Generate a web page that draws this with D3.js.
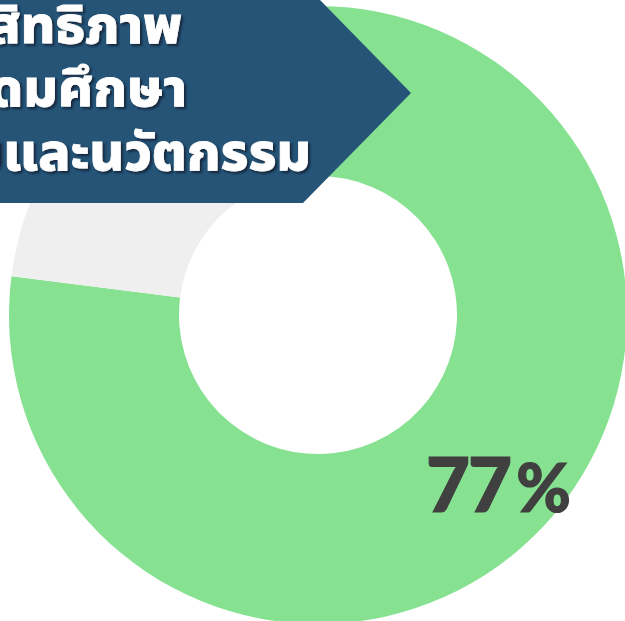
<!DOCTYPE html>
<html><head><meta charset="utf-8">
<script src="https://cdn.jsdelivr.net/npm/d3@7"></script>
<style>html,body{margin:0;padding:0;background:#fff;overflow:hidden}</style>
</head><body>
<svg id="c" width="625" height="621"></svg>
<script>
const categories = ["achieved", "remaining"];
const values = [77, 23];
const colors = ["#86e291", "#efefef"];
const titleLines = ["ประสิทธิภาพ", "การอุดมศึกษา", "วิทยาศาสตร์ วิจัยและนวัตกรรม"];
const labelValue = "77";
const labelUnit = "%";

const svg = d3.select("#c");
const cx = 318, cy = 315, R = 309, r = 139;

const defs = svg.append("defs");
const f = defs.append("filter").attr("id","sh").attr("x","-10%").attr("y","-20%").attr("width","130%").attr("height","150%");
f.append("feDropShadow").attr("dx",2).attr("dy",2).attr("stdDeviation",1.2).attr("flood-color","#0a1a2a").attr("flood-opacity",0.8);

const pie = d3.pie().sort(null).value(d => d)(values);
const arc = d3.arc().innerRadius(r).outerRadius(R);
const g = svg.append("g").attr("transform", `translate(${cx},${cy})`);
g.selectAll("path").data(pie).join("path").attr("d", arc).attr("fill", (d,i) => colors[i]);

// banner
const banner = svg.append("g");
banner.append("path")
  .attr("d", d3.line()([[-10,0],[320,0],[411,93],[303,203],[-10,203]]) + "Z")
  .attr("fill", "#255477");

const ends = [182, 187, 311];
const bases = [43, 106, 170];
banner.selectAll("text").data(titleLines).join("text")
  .attr("transform", (d,i) => `translate(${ends[i]},${bases[i]}) scale(1.02,1)`)
  .attr("text-anchor", "end")
  .attr("fill", "#fff")
  .attr("stroke", "#fff")
  .attr("stroke-width", 0.8)
  .attr("font-family", "'Noto Sans Thai','Noto Sans', sans-serif")
  .attr("font-weight", 800)
  .attr("font-size", 52)
  .attr("filter", "url(#sh)")
  .text(d => d);

const lbl = svg.append("text").attr("x", 426).attr("y", 512)
  .attr("fill", "#404040")
  .attr("stroke", "#404040")
  .attr("stroke-width", 1.2)
  .attr("font-family", "Lato, 'Open Sans', sans-serif")
  .attr("font-weight", 900)
  .attr("font-size", 76);
lbl.append("tspan").text(labelValue).attr("letter-spacing", -2);
lbl.append("tspan").attr("dx", 6).attr("font-size", 66).text(labelUnit);
</script>
</body></html>
